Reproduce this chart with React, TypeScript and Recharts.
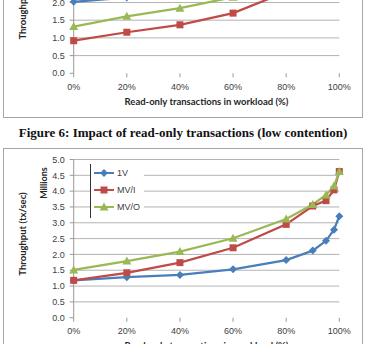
import React from "react";
import { LineChart, Line, XAxis, YAxis, CartesianGrid } from "recharts";

// read-only share of the workload (%)
const readOnlyPct = [0, 20, 40, 60, 80, 90, 95, 98, 100];
const xTicks = [0, 20, 40, 60, 80, 100];

// Figure 6 (low contention), millions tx/sec - mostly cropped above the picture
const lowOneV = [2.02, 2.14, 2.35, 2.6, 3.0, 3.3, 3.5, 3.7, 3.9];
const lowMVL = [0.92, 1.16, 1.37, 1.7, 2.3, 2.8, 3.1, 3.4, 3.7];
const lowMVO = [1.32, 1.61, 1.84, 2.15, 2.6, 2.9, 3.2, 3.5, 3.8];
const lowYTicks = [0, 0.5, 1, 1.5, 2, 2.5, 3, 3.5, 4];

// Figure 7 (high contention), millions tx/sec
const highOneV = [1.18, 1.28, 1.35, 1.53, 1.82, 2.12, 2.43, 2.78, 3.21];
const highMVL = [1.18, 1.42, 1.74, 2.21, 2.95, 3.53, 3.7, 4.04, 4.62];
const highMVO = [1.51, 1.79, 2.09, 2.51, 3.12, 3.58, 3.88, 4.16, 4.62];
const highYTicks = [0, 0.5, 1, 1.5, 2, 2.5, 3, 3.5, 4, 4.5, 5];

const seriesNames = ["1V", "MV/I", "MV/O"];

const BLUE = "#4a7ebb";
const RED = "#be4b48";
const GREEN = "#98b954";
const SANS = "'Liberation Sans', Arial, sans-serif";
const TITLE_FONT = "Lato, sans-serif";

const Diamond = ({ cx, cy, fill }: any) => (
  <path d={`M${cx},${cy - 4}L${cx + 4},${cy}L${cx},${cy + 4}L${cx - 4},${cy}Z`} fill={fill} />
);
const Square = ({ cx, cy, fill }: any) => (
  <rect x={cx - 3.5} y={cy - 3.5} width={7} height={7} fill={fill} />
);
const Triangle = ({ cx, cy, fill }: any) => (
  <path d={`M${cx},${cy - 4.5}L${cx + 4.5},${cy + 3.5}L${cx - 4.5},${cy + 3.5}Z`} fill={fill} />
);

const markers = [
  { key: "oneV", color: BLUE, Shape: Diamond },
  { key: "mvl", color: RED, Shape: Square },
  { key: "mvo", color: GREEN, Shape: Triangle },
];

// legend box drawn over the plot, covering the gridlines like the Excel original
const LegendBox = ({ top }: { top: number }) => (
  <div
    style={{
      position: "absolute",
      left: 90,
      top,
      background: "#fff",
      borderLeft: "1px solid #333",
      width: 53,
      height: 54,
      fontFamily: SANS,
      fontSize: 9,
      color: "#404040",
    }}
  >
    {markers.map((m, i) => (
      <div key={m.key} style={{ display: "flex", alignItems: "center", height: 17 }}>
        <svg width={24} height={10} style={{ marginLeft: 2 }}>
          <line x1={1} y1={5} x2={21} y2={5} stroke={m.color} strokeWidth={2} />
          <m.Shape cx={11} cy={5} fill={m.color} />
        </svg>
        <span>{seriesNames[i]}</span>
      </div>
    ))}
  </div>
);

interface ChartProps {
  top: number;
  height: number;
  marginTop: number;
  xAxisHeight: number;
  yMax: number;
  yTicks: number[];
  oneV: number[];
  mvl: number[];
  mvo: number[];
}

function ThroughputChart({ top, height, marginTop, xAxisHeight, yMax, yTicks, oneV, mvl, mvo }: ChartProps) {
  const data = readOnlyPct.map((x, i) => ({ x, oneV: oneV[i], mvl: mvl[i], mvo: mvo[i] }));
  const plotBottom = height - xAxisHeight;
  const plotCenter = (marginTop + plotBottom) / 2;
  return (
    <div style={{ position: "absolute", left: 0, top, width: 366, height }}>
      <LineChart
        width={366}
        height={height}
        data={data}
        margin={{ top: marginTop, right: 26.7, left: 0, bottom: 0 }}
      >
        <CartesianGrid
          vertical={false}
          stroke="#b3b3b3"
          horizontalValues={yTicks.filter((t) => t > 0)}
        />
        <XAxis
          type="number"
          dataKey="x"
          domain={[0, 100]}
          ticks={xTicks}
          interval={0}
          tickFormatter={(v) => `${v}%`}
          height={xAxisHeight}
          axisLine={false}
          tickLine={{ stroke: "#999" }}
          tickSize={4}
          tickMargin={6}
          tick={{ fontSize: 9, fill: "#404040", fontFamily: SANS }}
        />
        <YAxis
          domain={[0, yMax]}
          ticks={yTicks}
          interval={0}
          allowDataOverflow
          width={73.7}
          tickFormatter={(v) => v.toFixed(1)}
          axisLine={{ stroke: "#999" }}
          tickLine={{ stroke: "#999" }}
          tickSize={4}
          tickMargin={5}
          tick={{ fontSize: 9, fill: "#404040", fontFamily: SANS }}
        />
        {markers.map((m) => (
          <Line
            key={m.key}
            dataKey={m.key}
            stroke={m.color}
            strokeWidth={2.25}
            isAnimationActive={false}
            dot={(p: any) => <m.Shape key={`${m.key}-${p.index}`} cx={p.cx} cy={p.cy} fill={m.color} />}
            activeDot={false}
          />
        ))}
        <text
          x={22.5}
          y={plotCenter - 4.6}
          transform={`rotate(-90 22.5 ${plotCenter - 4.6})`}
          textAnchor="middle"
          dominantBaseline="central"
          fontFamily={TITLE_FONT}
          fontWeight="bold"
          fontSize={9.5}
          fill="#262626"
        >
          Throughput (tx/sec)
        </text>
        <text
          x={43.3}
          y={marginTop + 23.5}
          transform={`rotate(-90 43.3 ${marginTop + 23.5})`}
          textAnchor="middle"
          dominantBaseline="central"
          fontFamily={TITLE_FONT}
          fontWeight="bold"
          fontSize={9}
          fill="#262626"
        >
          Millions
        </text>
        <text
          x={206.5}
          y={plotBottom + 27.7}
          textAnchor="middle"
          dominantBaseline="central"
          fontFamily={TITLE_FONT}
          fontWeight="bold"
          fontSize={9.5}
          fill="#262626"
        >
          Read-only transactions in workload (%)
        </text>
      </LineChart>
      <LegendBox top={marginTop + 4.5} />
    </div>
  );
}

export default function App() {
  return (
    <div
      style={{
        position: "absolute",
        left: 0,
        top: 0,
        width: 366,
        height: 344,
        overflow: "hidden",
        background: "#fff",
      }}
    >
      <div
        style={{
          position: "absolute",
          left: 3,
          top: -10,
          width: 360,
          height: 128,
          boxSizing: "border-box",
          border: "1px solid #a6a6a6",
        }}
      />
      <ThroughputChart
        top={-80}
        height={198}
        marginTop={11.7}
        xAxisHeight={44.7}
        yMax={4}
        yTicks={lowYTicks}
        oneV={lowOneV}
        mvl={lowMVL}
        mvo={lowMVO}
      />
      <div
        style={{
          position: "absolute",
          left: 0,
          top: 124,
          width: 366,
          height: 18,
          lineHeight: "18px",
          textAlign: "center",
          fontFamily: "'Liberation Serif', 'Times New Roman', serif",
          fontWeight: "bold",
          fontSize: 13,
          color: "#111",
        }}
      >
        Figure 6: Impact of read-only transactions (low contention)
      </div>
      <div
        style={{
          position: "absolute",
          left: 3,
          top: 148,
          width: 360,
          height: 220,
          boxSizing: "border-box",
          border: "1px solid #a6a6a6",
        }}
      />
      <ThroughputChart
        top={147}
        height={210}
        marginTop={12.5}
        xAxisHeight={39.3}
        yMax={5}
        yTicks={highYTicks}
        oneV={highOneV}
        mvl={highMVL}
        mvo={highMVO}
      />
    </div>
  );
}
